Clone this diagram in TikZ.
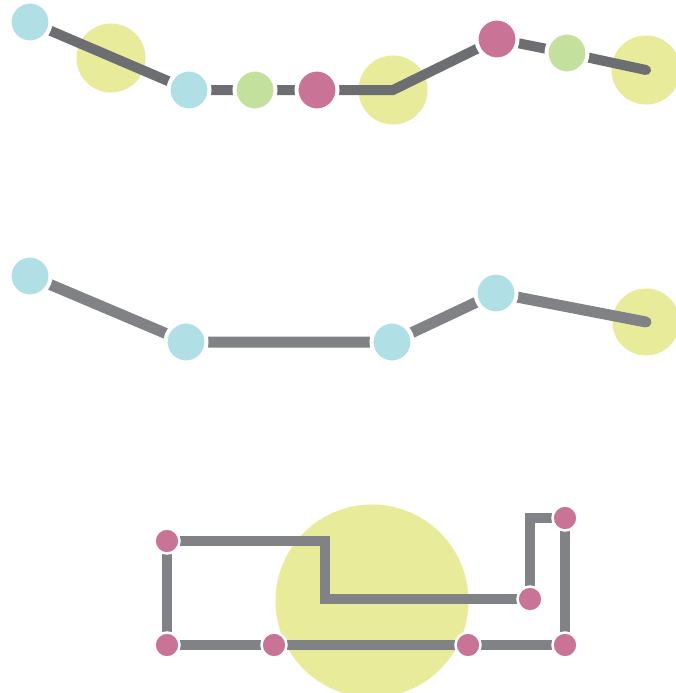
\documentclass[tikz,border=0pt]{standalone}
\usetikzlibrary{calc}

% capas: halos al fondo, trazos en medio, estaciones encima
\pgfdeclarelayer{halos}
\pgfdeclarelayer{wires}
\pgfsetlayers{halos,wires,main}

\definecolor{stopcyan}{HTML}{B0E0E6}
\definecolor{stopgreen}{HTML}{C4E09D}
\definecolor{stopmagenta}{HTML}{C97496}
\definecolor{haloyellow}{HTML}{E8EB9A}
\definecolor{wiredark}{HTML}{6D6E71}
\definecolor{wiregray}{HTML}{808285}

\begin{document}
\begin{tikzpicture}[x=1pt, y=-1pt,
    station/.style={circle, fill=#1, draw=white, line width=4pt, inner sep=0pt, minimum size=41pt},
    smallstation/.style={circle, fill=stopmagenta, draw=white, line width=2.5pt, inner sep=0pt, minimum size=25pt},
    halo/.style={circle, fill=haloyellow, inner sep=0pt, minimum size=#1},
    wire/.style={draw=#1, line width=10pt, line cap=round}]

    % --- Parámetros ---
    \def\haloR{69pt}    % diámetro de los halos pequeños
    \def\haloBig{193pt} % diámetro del halo grande

    \useasboundingbox (0,0) rectangle (676,693);

    % =========================================================================
    % FILA 1: línea con estaciones de colores
    % =========================================================================
    \begin{scope}

        % 1. Estaciones
        \node[station=stopcyan]    (a1) at (30,22) {};
        \node[station=stopcyan]    (b1) at (189,90) {};
        \node[station=stopgreen]   (c1) at (255,90) {};
        \node[station=stopmagenta] (d1) at (317,90) {};
        \node[station=stopmagenta] (e1) at (497,39) {};
        \node[station=stopgreen]   (f1) at (567,53) {};

        % 2. Halos
        \begin{pgfonlayer}{halos}
            \node[halo=\haloR] (h1) at (111,58) {};
            \node[halo=\haloR] (h2) at (393,90) {};
            \node[halo=\haloR] (h3) at (646,70) {};
        \end{pgfonlayer}

        % 3. Trazo
        \begin{pgfonlayer}{wires}
            \draw[wire=wiredark] (a1.center) -- (b1.center) -- (c1.center) -- (d1.center)
                -- (h2.center) -- (e1.center) -- (f1.center) -- (h3.center);
        \end{pgfonlayer}

    \end{scope}

    % =========================================================================
    % FILA 2: misma línea, solo estaciones cian
    % =========================================================================
    \begin{scope}

        % 1. Estaciones
        \node[station=stopcyan] (a2) at (30,276) {};
        \node[station=stopcyan] (b2) at (186,342) {};
        \node[station=stopcyan] (c2) at (392,342) {};
        \node[station=stopcyan] (d2) at (496,293) {};

        % 2. Halo final
        \begin{pgfonlayer}{halos}
            \node[halo=67pt] (h4) at (646,322) {};
        \end{pgfonlayer}

        % 3. Trazo
        \begin{pgfonlayer}{wires}
            \draw[wire=wiregray, line width=11pt] (a2.center) -- (b2.center) -- (c2.center)
                -- (d2.center) -- (h4.center);
        \end{pgfonlayer}

    \end{scope}

    % =========================================================================
    % FILA 3: recorrido ortogonal sobre el halo grande
    % =========================================================================
    \begin{scope}

        % 1. Estaciones
        \node[smallstation] (tl) at (167,541) {};
        \node[smallstation] (bl) at (167,645) {};
        \node[smallstation] (b2) at (274,645) {};
        \node[smallstation] (b3) at (468,645) {};
        \node[smallstation] (br) at (565,645) {};
        \node[smallstation] (tr) at (565,518) {};
        \node[smallstation] (mr) at (530,599) {};

        % 2. Halo grande
        \begin{pgfonlayer}{halos}
            \node[halo=\haloBig] (h5) at (372,601) {};
        \end{pgfonlayer}

        % 3. Trazos
        \begin{pgfonlayer}{wires}
            \draw[wire=wiregray, line cap=butt] (tl.center) -- ++(158,0) |- (mr.center);
            \draw[wire=wiregray, line cap=butt] (mr.center) |- (tr.center);
            \draw[wire=wiregray, line cap=butt] (tl.center) -- (bl.center) -- (b2.center)
                -- (b3.center) -- (br.center) -- (tr.center);
        \end{pgfonlayer}

    \end{scope}

\end{tikzpicture}
\end{document}
